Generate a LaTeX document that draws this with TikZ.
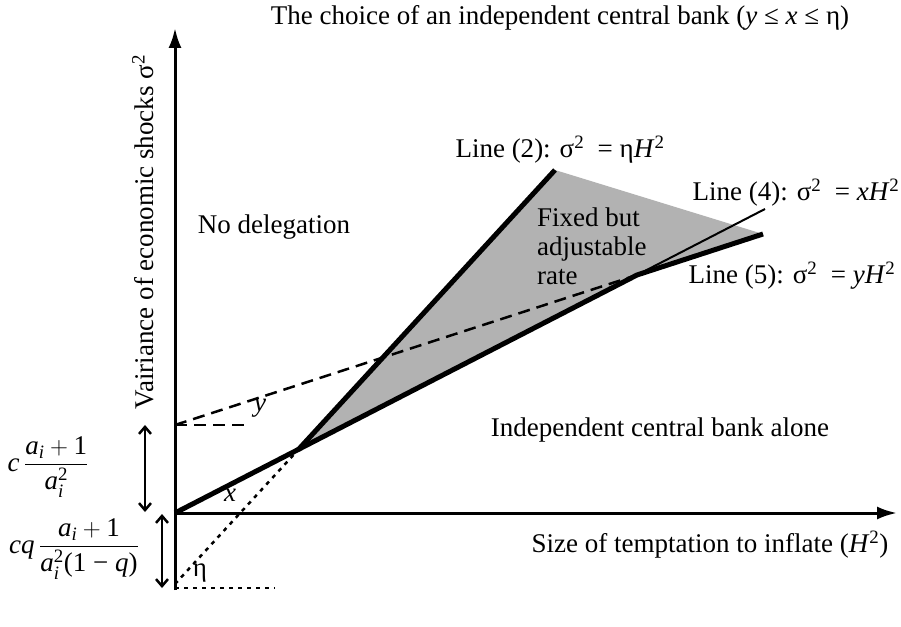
\documentclass[tikz,border=0pt]{standalone}
\usepackage{amsmath}
\usepackage{fontspec}
\setmainfont{Liberation Serif}
\usetikzlibrary{arrows.meta}

\begin{document}
\begin{tikzpicture}[x=1pt,y=1pt,font=\fontsize{27}{29}\selectfont,
    ax/.style={line width=3pt},
    thk/.style={line width=5pt},
    thn/.style={line width=2pt},
    dsh/.style={line width=2.5pt,dash pattern=on 12pt off 7pt},
    dtt/.style={line width=2.5pt,dash pattern=on 4pt off 5pt},
    dbl/.style={line width=2.5pt,{Straight Barb[length=7pt,width=12pt]}-{Straight Barb[length=7pt,width=12pt]}}]
        \useasboundingbox (-175,-113) rectangle (726,513);
        % points of the diagram
        \coordinate (O) at (0,0);
        \coordinate (K) at (123,63);
        \coordinate (P) at (462,238);
        \coordinate (T) at (380,343);
        \coordinate (E) at (588,279);
        \coordinate (F) at (590,304);
        \coordinate (Y0) at (0,88);
        \coordinate (Y1) at (75,88);
        \coordinate (N0) at (0,-71);
        \coordinate (N1) at (0,-75);
        \coordinate (N2) at (100,-75);
        \coordinate (yb) at (0,-77);
        \coordinate (yt) at (0,485);
        \coordinate (xt) at (722,0);
        \coordinate (A1) at (-30,88);
        \coordinate (A2) at (-30,1);
        \coordinate (B1) at (-13,-1);
        \coordinate (B2) at (-13,-75);
        % shaded region
        \fill[black!30] (K) -- (T) -- (E) -- (P) -- cycle;
        % lines
        \draw[dtt] (N1) -- (N2);
        \draw[dtt] (N0) -- (K);
        \draw[dsh] (Y0) -- (Y1);
        \draw[dsh] (Y0) -- (P);
        \draw[thn] (P) -- (F);
        \draw[thk] (O) -- (P) -- (E);
        \draw[thk] (K) -- (T);
        % axes
        \draw[ax,-{Latex[length=20pt,width=13pt]}] (yb) -- (yt);
        \draw[ax,-{Latex[length=20pt,width=13pt]}] (O) -- (xt);
        \draw[dbl] (A1) -- (A2);
        \draw[dbl] (B1) -- (B2);
        % labels
        \node (ttl) at (385,495) {The choice of an independent central bank (\textit{y} ≤ \textit{x} ≤ η)};
        \node[rotate=90] (ylab) at (-32,281) {Vairiance of economic shocks σ\textsuperscript{2}};
        \node (xlab) at (535,-32) {Size of temptation to inflate (\textit{H}\textsuperscript{2})};
        \node (nod) at (99,286) {No delegation};
        \node[align=left,anchor=west,inner sep=0pt] (fix) at (362,267) {Fixed but\\adjustable\\rate};
        \node (icb) at (485,83) {Independent central bank alone};
        \node (l2) at (385,363) {Line (2): σ\textsuperscript{2}\enspace= η\textit{H}\textsuperscript{2}};
        \node (l4) at (621,320) {Line (4): σ\textsuperscript{2}\enspace= \textit{xH}\textsuperscript{2}};
        \node (l5) at (617,237) {Line (5): σ\textsuperscript{2}\enspace= \textit{yH}\textsuperscript{2}};
        \node (ly) at (85,105) {\textit{y}};
        \node (lx) at (55,18) {\textit{x}};
        \node (le) at (25,-60) {η};
        \node[inner sep=0pt] (f1) at (-127,46) {\textit{c}\,$\dfrac{\textit{a}_{\textit{i}} + \textrm{1}}{\textit{a}_{\textit{i}}^{\textrm{2}}}$};
        \node[inner sep=0pt] (f2) at (-101,-36) {\textit{cq}\,$\dfrac{\textit{a}_{\textit{i}} + \textrm{1}}{\textit{a}_{\textit{i}}^{\textrm{2}}\textrm{(1 − }\textit{q}\textrm{)}}$};
\end{tikzpicture}
\end{document}
